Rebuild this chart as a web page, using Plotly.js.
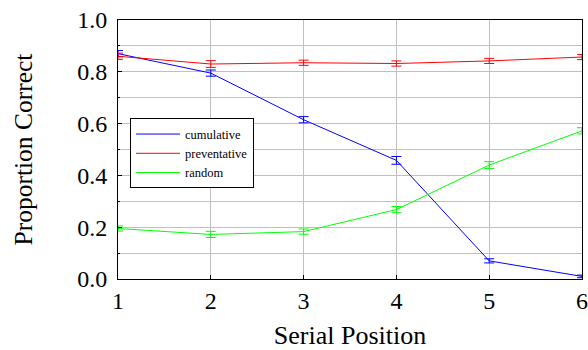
<!DOCTYPE html>
<html><head><meta charset="utf-8">
<script src="https://cdn.plot.ly/plotly-3.0.1.min.js"></script>
<style>body{margin:0;padding:0;background:#fff}#chart{width:588px;height:350px}</style>
</head><body><div id="chart"></div>
<script>
const positions = [1, 2, 3, 4, 5, 6];
const cumulative = [0.87, 0.795, 0.615, 0.458, 0.07, 0.01];
const cumulativeErr = [0.012, 0.012, 0.012, 0.015, 0.008, 0.005];
const preventative = [0.86, 0.83, 0.835, 0.832, 0.842, 0.857];
const preventativeErr = [0.012, 0.013, 0.01, 0.01, 0.01, 0.01];
const random = [0.195, 0.172, 0.183, 0.268, 0.44, 0.572];
const randomErr = [0.01, 0.012, 0.01, 0.012, 0.013, 0.012];

function tr(name, y, err, color) {
  return {x: positions, y: y, name: name, type: 'scatter', mode: 'lines',
    line: {color: color, width: 1},
    error_y: {type: 'data', array: err, visible: true, color: color, thickness: 1, width: 5}};
}
const data = [
  tr('cumulative', cumulative, cumulativeErr, '#0000ff'),
  tr('preventative', preventative, preventativeErr, '#ff0000'),
  tr('random', random, randomErr, '#00ff00')
];
const fam = '"Liberation Serif", "Times New Roman", serif';
const layout = {
  width: 588, height: 350,
  margin: {l: 118, r: 6, t: 20, b: 71},
  paper_bgcolor: '#fff', plot_bgcolor: '#fff',
  font: {family: fam, color: '#000'},
  showlegend: true,
  legend: {x: 0.026, y: 0.62, xanchor: 'left', yanchor: 'top', bgcolor: '#fff',
    bordercolor: '#000', borderwidth: 1, font: {family: fam, size: 12.5, color: '#000'},
    itemwidth: 44, tracegroupgap: 0},
  xaxis: {range: [1, 6], tickvals: positions, ticks: 'inside', ticklen: 4, tickcolor: '#000',
    showgrid: true, gridcolor: '#c0c0c0', gridwidth: 1, zeroline: false,
    showline: true, linecolor: '#000', linewidth: 1, mirror: true,
    tickfont: {family: fam, size: 24, color: '#000'},
    title: {text: 'Serial Position', font: {family: fam, size: 26, color: '#000'}, standoff: 23}},
  yaxis: {range: [0, 1], tickvals: [0, 0.2, 0.4, 0.6, 0.8, 1.0], tickformat: '.1f',
    ticks: 'inside', ticklen: 4, tickcolor: '#000', ticklabelstandoff: 5,
    minor: {dtick: 0.1, showgrid: true, gridcolor: '#c0c0c0', ticks: 'inside', ticklen: 2, tickcolor: '#000'},
    showgrid: true, gridcolor: '#c0c0c0', gridwidth: 1, zeroline: false,
    showline: true, linecolor: '#000', linewidth: 1, mirror: true,
    tickfont: {family: fam, size: 24, color: '#000'},
    title: {text: 'Proportion Correct', font: {family: fam, size: 25.5, color: '#000'}, standoff: 37}}
};
Plotly.newPlot('chart', data, layout, {staticPlot: true, displayModeBar: false});
</script></body></html>
